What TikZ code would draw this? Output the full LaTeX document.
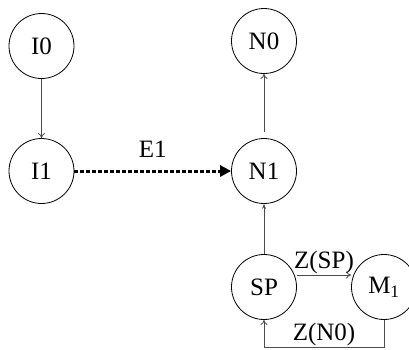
\documentclass[tikz,border=0pt]{standalone}
\usepackage{fontspec}
\setmainfont{Liberation Serif}
\usetikzlibrary{arrows.meta}

\begin{document}
\begin{tikzpicture}[x=1pt, y=-1pt,
    every node/.style={font=\fontsize{25}{29}\selectfont, text=black},
    state/.style={draw, thick, circle, minimum size=65pt, inner sep=0pt},
    link/.style={black!70, line width=0.8pt, -{To[length=5pt,width=7pt]}}]
  \useasboundingbox (0,0) rectangle (409,349);
  \node[state] (i0) at (41.5,46) {I0};
  \node[state] (i1) at (41.5,171) {I1};
  \node[state] (n0) at (264,41) {N0};
  \node[state] (n1) at (264,171) {N1};
  \node[state] (sp) at (264,287) {SP};
  \node[state] (m1) at (384,287) {M\textsubscript{1}};
  \draw[link] (i0) -- (i1);
  \draw[link, shorten <=6pt] (n1) -- (n0);
  \draw[link, -{Stealth[length=5pt,width=4pt]}] (sp) -- (n1);
  \draw[line width=3pt, dash pattern=on 3.5pt off 2.5pt, -{Triangle[length=11pt,width=11pt]}]
    (i1) -- (n1) node[midway, above=9pt] {E1};
  \draw[link] ([yshift=12pt]sp.east) -- ([yshift=12pt]m1.west)
    node[midway, above, inner sep=1pt] {Z(SP)};
  \draw[link] (m1.south) -- ++(0,27.5) -| (sp.south)
    node[pos=0.25, above, inner sep=1pt] {Z(N0)};
\end{tikzpicture}
\end{document}
